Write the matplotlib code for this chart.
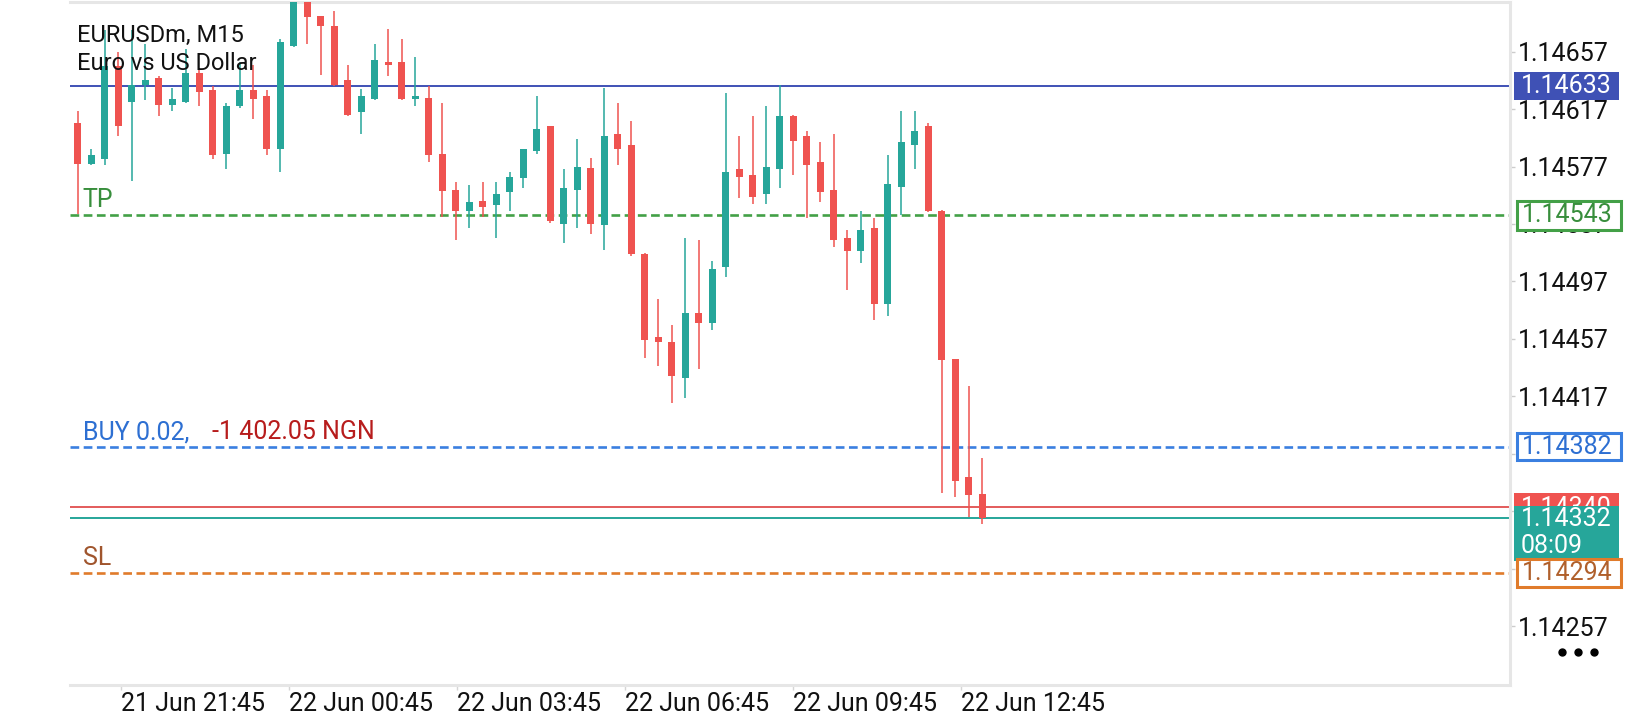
import matplotlib
matplotlib.use("Agg")
import matplotlib.pyplot as plt
from matplotlib.patches import Rectangle
from matplotlib.lines import Line2D
import numpy as np

plt.rcParams['font.family'] = ['Roboto', 'DejaVu Sans']

# ---------------- data ----------------
opens = [1.14607, 1.14579, 1.14582, 1.14647, 1.14622, 1.14634, 1.14639, 1.14620, 1.14622, 1.14642,
         1.14630, 1.14586, 1.14619, 1.14630, 1.14626, 1.14589, 1.14661, 1.14700, 1.14682, 1.14675,
         1.14637, 1.14615, 1.14624, 1.14650, 1.14650, 1.14624, 1.14625, 1.14586, 1.14561, 1.14546,
         1.14553, 1.14550, 1.14559, 1.14569, 1.14588, 1.14605, 1.14537, 1.14561, 1.14576, 1.14536,
         1.14600, 1.14592, 1.14516, 1.14458, 1.14455, 1.14430, 1.14475, 1.14468, 1.14507, 1.14575,
         1.14571, 1.14558, 1.14575, 1.14612, 1.14598, 1.14580, 1.14561, 1.14527, 1.14518, 1.14534,
         1.14481, 1.14563, 1.14592, 1.14605, 1.14546, 1.14443, 1.14361, 1.14349]
highs = [1.14616, 1.14589, 1.14672, 1.14657, 1.14672, 1.14662, 1.14640, 1.14632, 1.14659, 1.14644,
         1.14633, 1.14621, 1.14650, 1.14648, 1.14630, 1.14666, 1.14706, 1.14708, 1.14682, 1.14685,
         1.14648, 1.14631, 1.14662, 1.14673, 1.14666, 1.14653, 1.14633, 1.14621, 1.14566, 1.14564,
         1.14566, 1.14566, 1.14573, 1.14589, 1.14626, 1.14605, 1.14575, 1.14596, 1.14583, 1.14632,
         1.14621, 1.14609, 1.14517, 1.14485, 1.14467, 1.14527, 1.14526, 1.14511, 1.14628, 1.14598,
         1.14612, 1.14619, 1.14634, 1.14613, 1.14602, 1.14594, 1.14600, 1.14533, 1.14546, 1.14541,
         1.14585, 1.14616, 1.14616, 1.14607, 1.14547, 1.14443, 1.14424, 1.14374]
lows = [1.14544, 1.14578, 1.14578, 1.14598, 1.14567, 1.14623, 1.14612, 1.14616, 1.14621, 1.14619,
        1.14582, 1.14575, 1.14618, 1.14610, 1.14585, 1.14573, 1.14660, 1.14662, 1.14641, 1.14633,
        1.14612, 1.14600, 1.14623, 1.14640, 1.14623, 1.14619, 1.14580, 1.14542, 1.14526, 1.14534,
        1.14542, 1.14527, 1.14546, 1.14562, 1.14586, 1.14538, 1.14524, 1.14534, 1.14530, 1.14519,
        1.14578, 1.14515, 1.14444, 1.14438, 1.14412, 1.14416, 1.14436, 1.14463, 1.14500, 1.14555,
        1.14551, 1.14551, 1.14562, 1.14571, 1.14541, 1.14552, 1.14521, 1.14491, 1.14510, 1.14470,
        1.14473, 1.14543, 1.14575, 1.14545, 1.14350, 1.14347, 1.14333, 1.14328]
closes = [1.14579, 1.14585, 1.14647, 1.14605, 1.14634, 1.14637, 1.14620, 1.14624, 1.14642, 1.14629,
          1.14585, 1.14619, 1.14630, 1.14624, 1.14589, 1.14664, 1.14700, 1.14681, 1.14675, 1.14634,
          1.14613, 1.14626, 1.14651, 1.14648, 1.14624, 1.14626, 1.14585, 1.14560, 1.14546, 1.14552,
          1.14549, 1.14558, 1.14570, 1.14589, 1.14603, 1.14539, 1.14562, 1.14577, 1.14537, 1.14598,
          1.14589, 1.14516, 1.14456, 1.14455, 1.14431, 1.14475, 1.14468, 1.14506, 1.14573, 1.14570,
          1.14556, 1.14577, 1.14612, 1.14595, 1.14578, 1.14559, 1.14526, 1.14518, 1.14533, 1.14481,
          1.14565, 1.14594, 1.14602, 1.14546, 1.14442, 1.14358, 1.14348, 1.14332]

time_labels = ["21 Jun 21:45", "22 Jun 00:45", "22 Jun 03:45",
               "22 Jun 06:45", "22 Jun 09:45", "22 Jun 12:45"]

price_ticks = [1.14657, 1.14617, 1.14577, 1.14537, 1.14497, 1.14457,
               1.14417, 1.14377, 1.14337, 1.14297, 1.14257]
hidden_ticks = [1.14377, 1.14337, 1.14297]   # covered by the price boxes

symbol = "EURUSDm, M15"
description = "Euro vs US Dollar"
level_line = 1.14633
take_profit = 1.14543
entry_price = 1.14382
ask_price = 1.14340
bid_price = 1.14332
stop_loss = 1.14294
timer_text = "08:09"
position_text = "BUY 0.02,"
profit_text = "-1 402.05 NGN"

# ---------------- style / layout ----------------
TEAL = '#26a69a'
RED = '#ef5350'
W, H = 1640, 720
# time-axis label anchors (in candle-index units, as placed by the terminal)
label_anchor_first, label_anchor_step = 3.2, 12.45

fig = plt.figure(figsize=(W / 100, H / 100), dpi=100)
fig.patch.set_facecolor('white')
ax_top, ax_bot, ax_left, ax_right = 1.7, 684.5, 70, 1510
ax = fig.add_axes([ax_left / W, 1 - ax_bot / H, (ax_right - ax_left) / W, (ax_bot - ax_top) / H])

o = np.array(opens); h = np.array(highs); l = np.array(lows); c = np.array(closes)
idx = np.arange(len(o))
cols = np.where(c >= o, TEAL, RED)

ax.set_xlim(-0.57, 106.1)
ax.set_ylim(1.142163, 1.146918)

ax.vlines(idx, l, h, colors=cols, lw=1.1, zorder=3)
body_bottom = np.minimum(o, c)
body_h = np.maximum(np.abs(c - o), 0.000018)
ax.bar(idx, body_h, bottom=body_bottom, width=0.54, color=cols, linewidth=0, zorder=4)

dash = (0, (3.3, 1.7))
ax.axhline(level_line, color='#3f51b5', lw=1.4, zorder=2)
ax.axhline(take_profit, color='#43a047', lw=1.9, ls=dash, zorder=2)
ax.axhline(entry_price, color='#3a7fe0', lw=1.9, ls=dash, zorder=2)
ax.axhline(ask_price, color='#e35b5b', lw=1.4, zorder=2)
ax.axhline(bid_price, color=TEAL, lw=1.4, zorder=2)
ax.axhline(stop_loss, color='#e07b2b', lw=1.9, ls=dash, zorder=2)

for s in ['top', 'right', 'bottom']:
    ax.spines[s].set_color('#e6e6e6')
    ax.spines[s].set_linewidth(2.2)
ax.spines['left'].set_visible(False)

ax.yaxis.tick_right()
ax.set_yticks(price_ticks)
ax.set_yticklabels(["" if p in hidden_ticks else f"{p:.5f}" for p in price_ticks])
ax.tick_params(axis='y', length=3.6, width=1, color='#cccccc', pad=2.2,
               labelsize=18, labelcolor='#111111')
xt = [label_anchor_first + label_anchor_step * k for k in range(len(time_labels))]
ax.set_xticks(xt)
ax.set_xticklabels(time_labels)
ax.tick_params(axis='x', length=3.6, width=1, color='#d5d5d5', pad=1.5,
               labelsize=18, labelcolor='#111111')
for lab in ax.get_xticklabels():
    lab.set_ha('left')
ax.set_facecolor('white')


def ypix(price):
    return H - ax.transData.transform((0, price))[1]


def fx(x):
    return x / W


def fy(y):
    return 1 - y / H


fig.text(fx(76.7), fy(42.3), symbol, fontsize=17, color='#111111', va='baseline', ha='left', zorder=10)
fig.text(fx(76.7), fy(70), description, fontsize=17, color='#111111', va='baseline', ha='left', zorder=10)

fig.text(fx(82.3), fy(ypix(take_profit) - 8.6), "TP", fontsize=18, color='#388e3c', va='baseline', ha='left')
fig.text(fx(82.7), fy(ypix(entry_price) - 7.5), position_text, fontsize=18, color='#2d6fd2', va='baseline', ha='left')
fig.text(fx(211.7), fy(ypix(entry_price) - 7.5), profit_text, fontsize=18, color='#b71c1c', va='baseline', ha='left')
fig.text(fx(82.7), fy(ypix(stop_loss) - 8.0), "SL", fontsize=18, color='#a0552d', va='baseline', ha='left')


def price_box(price, face, edge, x0, x1, half, lw=0, top=None, bottom=None, zo=20):
    yc = ypix(price)
    y0 = yc - half if top is None else yc - top
    y1 = yc + half if bottom is None else yc + bottom
    r = Rectangle((fx(x0), fy(y1)), (x1 - x0) / W, (y1 - y0) / H, transform=fig.transFigure,
                  facecolor=face, edgecolor=edge, linewidth=lw, zorder=zo)
    fig.add_artist(r)
    return yc


yc = price_box(level_line, '#3f51b5', 'none', 1514, 1619, 13.7)
fig.text(fx(1521), fy(yc), f"{level_line:.5f}", fontsize=18, color='white', va='center', ha='left', zorder=21)

yc = price_box(take_profit, 'white', '#43a047', 1517, 1621.5, 14.2, lw=2.2)
fig.text(fx(1522), fy(yc), f"{take_profit:.5f}", fontsize=18, color='#388e3c', va='center', ha='left', zorder=21)

yc = price_box(entry_price, 'white', '#3a7fe0', 1517, 1621.5, 13.6, lw=2.2)
fig.text(fx(1522), fy(yc), f"{entry_price:.5f}", fontsize=18, color='#2d6fd2', va='center', ha='left', zorder=21)

yc = price_box(ask_price, RED, 'none', 1514, 1619, 14.0, zo=20)
fig.text(fx(1521), fy(yc + 1), f"{ask_price:.5f}", fontsize=18, color='white', va='center', ha='left', zorder=21)

yc = price_box(bid_price, TEAL, 'none', 1514, 1619, 0, top=12.6, bottom=42.7, zo=22)
fig.text(fx(1521), fy(yc + 0.5), f"{bid_price:.5f}", fontsize=18, color='white', va='center', ha='left', zorder=23)
fig.text(fx(1521), fy(yc + 28), timer_text, fontsize=18, color='white', va='center', ha='left', zorder=23)

yc = price_box(stop_loss, 'white', '#e07b2b', 1517, 1621.5, 14.0, lw=2.2, zo=24)
fig.text(fx(1522), fy(yc), f"{stop_loss:.5f}", fontsize=18, color='#b0602c', va='center', ha='left', zorder=25)

fig.add_artist(Line2D([fx(1561.7), fx(1577.7), fx(1594)], [fy(651.7)] * 3, transform=fig.transFigure,
                      ls='none', marker='o', ms=5, color='black'))

fig.savefig("out.png", dpi=100, facecolor='white')
